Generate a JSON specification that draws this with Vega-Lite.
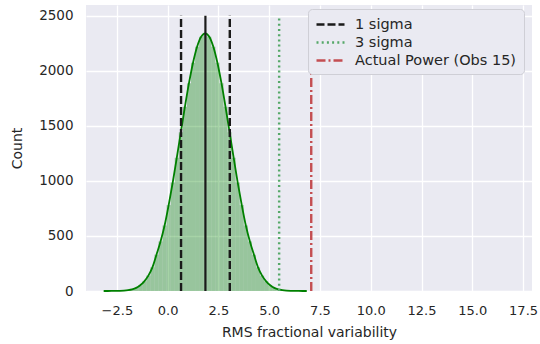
{
  "$schema": "https://vega.github.io/schema/vega-lite/v6.json",
  "width": 446,
  "height": 286,
  "autosize": {"type": "none"},
  "padding": {"left": 86, "top": 5, "right": 8, "bottom": 53},
  "background": "white",
  "datasets": {
    "hist": [
      {"lo": -3.25, "hi": -3.05, "mid": -3.15, "base": 0, "count": 0},
      {"lo": -3.05, "hi": -2.85, "mid": -2.95, "base": 0, "count": 0.2},
      {"lo": -2.85, "hi": -2.65, "mid": -2.75, "base": 0, "count": 0.5},
      {"lo": -2.65, "hi": -2.45, "mid": -2.55, "base": 0, "count": 1},
      {"lo": -2.45, "hi": -2.25, "mid": -2.35, "base": 0, "count": 2},
      {"lo": -2.25, "hi": -2.05, "mid": -2.15, "base": 0, "count": 4},
      {"lo": -2.05, "hi": -1.85, "mid": -1.95, "base": 0, "count": 8},
      {"lo": -1.85, "hi": -1.65, "mid": -1.75, "base": 0, "count": 15},
      {"lo": -1.65, "hi": -1.45, "mid": -1.55, "base": 0, "count": 28},
      {"lo": -1.45, "hi": -1.25, "mid": -1.35, "base": 0, "count": 52},
      {"lo": -1.25, "hi": -1.05, "mid": -1.15, "base": 0, "count": 88},
      {"lo": -1.05, "hi": -0.85, "mid": -0.95, "base": 0, "count": 140},
      {"lo": -0.85, "hi": -0.65, "mid": -0.75, "base": 0, "count": 215},
      {"lo": -0.65, "hi": -0.45, "mid": -0.55, "base": 0, "count": 330},
      {"lo": -0.45, "hi": -0.25, "mid": -0.35, "base": 0, "count": 450},
      {"lo": -0.25, "hi": -0.05, "mid": -0.15, "base": 0, "count": 595},
      {"lo": -0.05, "hi": 0.15, "mid": 0.05, "base": 0, "count": 780},
      {"lo": 0.15, "hi": 0.35, "mid": 0.25, "base": 0, "count": 985},
      {"lo": 0.35, "hi": 0.55, "mid": 0.45, "base": 0, "count": 1210},
      {"lo": 0.55, "hi": 0.75, "mid": 0.65, "base": 0, "count": 1442},
      {"lo": 0.75, "hi": 0.95, "mid": 0.85, "base": 0, "count": 1672},
      {"lo": 0.95, "hi": 1.15, "mid": 1.05, "base": 0, "count": 1887},
      {"lo": 1.15, "hi": 1.35, "mid": 1.25, "base": 0, "count": 2073},
      {"lo": 1.35, "hi": 1.55, "mid": 1.45, "base": 0, "count": 2218},
      {"lo": 1.55, "hi": 1.75, "mid": 1.65, "base": 0, "count": 2309},
      {"lo": 1.75, "hi": 1.95, "mid": 1.85, "base": 0, "count": 2340},
      {"lo": 1.95, "hi": 2.15, "mid": 2.05, "base": 0, "count": 2309},
      {"lo": 2.15, "hi": 2.35, "mid": 2.25, "base": 0, "count": 2218},
      {"lo": 2.35, "hi": 2.55, "mid": 2.45, "base": 0, "count": 2073},
      {"lo": 2.55, "hi": 2.75, "mid": 2.65, "base": 0, "count": 1887},
      {"lo": 2.75, "hi": 2.95, "mid": 2.85, "base": 0, "count": 1672},
      {"lo": 2.95, "hi": 3.15, "mid": 3.05, "base": 0, "count": 1442},
      {"lo": 3.15, "hi": 3.35, "mid": 3.25, "base": 0, "count": 1210},
      {"lo": 3.35, "hi": 3.55, "mid": 3.45, "base": 0, "count": 985},
      {"lo": 3.55, "hi": 3.75, "mid": 3.65, "base": 0, "count": 780},
      {"lo": 3.75, "hi": 3.95, "mid": 3.85, "base": 0, "count": 595},
      {"lo": 3.95, "hi": 4.15, "mid": 4.05, "base": 0, "count": 450},
      {"lo": 4.15, "hi": 4.35, "mid": 4.25, "base": 0, "count": 330},
      {"lo": 4.35, "hi": 4.55, "mid": 4.45, "base": 0, "count": 215},
      {"lo": 4.55, "hi": 4.75, "mid": 4.65, "base": 0, "count": 140},
      {"lo": 4.75, "hi": 4.95, "mid": 4.85, "base": 0, "count": 88},
      {"lo": 4.95, "hi": 5.15, "mid": 5.05, "base": 0, "count": 52},
      {"lo": 5.15, "hi": 5.35, "mid": 5.25, "base": 0, "count": 28},
      {"lo": 5.35, "hi": 5.55, "mid": 5.45, "base": 0, "count": 15},
      {"lo": 5.55, "hi": 5.75, "mid": 5.65, "base": 0, "count": 8},
      {"lo": 5.75, "hi": 5.95, "mid": 5.85, "base": 0, "count": 4},
      {"lo": 5.95, "hi": 6.15, "mid": 6.05, "base": 0, "count": 2},
      {"lo": 6.15, "hi": 6.35, "mid": 6.25, "base": 0, "count": 1},
      {"lo": 6.35, "hi": 6.55, "mid": 6.45, "base": 0, "count": 0.5},
      {"lo": 6.55, "hi": 6.75, "mid": 6.65, "base": 0, "count": 0.2},
      {"lo": 6.75, "hi": 6.95, "mid": 6.85, "base": 0, "count": 0}
    ],
    "marks": [
      {"value": 0.66, "bottom": 0, "top": 2500, "kind": "1 sigma"},
      {"value": 3.06, "bottom": 0, "top": 2500, "kind": "1 sigma"},
      {"value": 5.49, "bottom": 0, "top": 2500, "kind": "3 sigma"},
      {"value": 7.07, "bottom": 0, "top": 2000, "kind": "Actual Power (Obs 15)"}
    ],
    "mean": [
      {"value": 1.86, "bottom": 0, "top": 2500}
    ]
  },
  "layer": [
    {
      "data": {"name": "hist"},
      "mark": {"type": "rect", "color": "#008000", "opacity": 0.35, "strokeWidth": 0},
      "encoding": {
        "x": {
          "field": "lo",
          "type": "quantitative",
          "scale": {"domain": [-4.02, 17.94], "nice": false, "zero": false},
          "axis": {"title": "RMS fractional variability", "values": [-2.5, 0, 2.5, 5, 7.5, 10, 12.5, 15, 17.5], "format": ".1f"}
        },
        "x2": {"field": "hi"},
        "y": {
          "field": "count",
          "type": "quantitative",
          "scale": {"domain": [0, 2597], "nice": false},
          "axis": {"title": "Count", "values": [0, 500, 1000, 1500, 2000, 2500], "format": "d"}
        },
        "y2": {"field": "base"}
      }
    },
    {
      "data": {"name": "hist"},
      "mark": {"type": "line", "color": "#008000", "strokeWidth": 1.8, "interpolate": "monotone"},
      "encoding": {
        "x": {"field": "mid", "type": "quantitative"},
        "y": {"field": "count", "type": "quantitative"}
      }
    },
    {
      "data": {"name": "mean"},
      "mark": {"type": "rule", "color": "#1a1a1a", "strokeWidth": 2.2},
      "encoding": {
        "x": {"field": "value", "type": "quantitative"},
        "y": {"field": "bottom", "type": "quantitative"},
        "y2": {"field": "top"}
      }
    },
    {
      "data": {"name": "marks"},
      "mark": {"type": "rule", "strokeWidth": 2.4},
      "encoding": {
        "x": {"field": "value", "type": "quantitative"},
        "y": {"field": "bottom", "type": "quantitative"},
        "y2": {"field": "top"},
        "color": {
          "field": "kind",
          "type": "nominal",
          "scale": {"domain": ["1 sigma", "3 sigma", "Actual Power (Obs 15)"], "range": ["#1a1a1a", "#55a868", "#c44e52"]},
          "legend": {"title": null}
        },
        "strokeDash": {
          "field": "kind",
          "type": "nominal",
          "scale": {"domain": ["1 sigma", "3 sigma", "Actual Power (Obs 15)"], "range": [[8, 3], [2, 3.2], [9, 3, 2, 3]]},
          "legend": {"title": null}
        }
      }
    }
  ],
  "config": {
    "view": {"fill": "#EAEAF2", "stroke": null},
    "axis": {
      "domain": false,
      "ticks": false,
      "grid": true,
      "gridColor": "#ffffff",
      "gridWidth": 1.3,
      "labelFont": "DejaVu Sans",
      "labelFontSize": 13,
      "labelColor": "#262626",
      "titleFont": "DejaVu Sans",
      "titleFontSize": 14,
      "titleFontWeight": "normal",
      "titleColor": "#262626"
    },
    "axisX": {"labelPadding": 13, "titlePadding": 8},
    "axisY": {"labelPadding": 13, "labelFontSize": 13.5, "titlePadding": 14},
    "legend": {
      "orient": "none",
      "legendX": 222,
      "legendY": 4,
      "symbolType": "M-1,0L3,0",
      "symbolSize": 196,
      "symbolStrokeWidth": 2.4,
      "labelFont": "DejaVu Sans",
      "labelFontSize": 14.5,
      "labelColor": "#262626",
      "labelLimit": 300,
      "padding": 7,
      "rowPadding": 3,
      "fillColor": "#EAEAF2",
      "strokeColor": "#cfcfd6",
      "cornerRadius": 4,
      "labelOffset": 23
    }
  }
}
